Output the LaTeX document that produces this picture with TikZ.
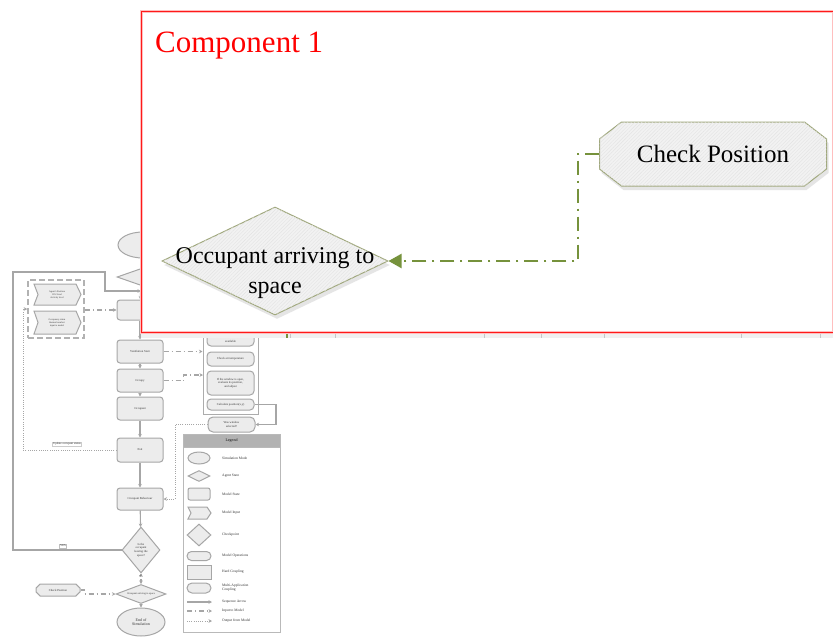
\documentclass[tikz,border=0pt]{standalone}
\usepackage{fontspec}
\setmainfont{Liberation Serif}
\usetikzlibrary{shapes.geometric,shapes.misc,shadows,calc,arrows.meta,patterns.meta}
\definecolor{olivec}{RGB}{118,146,60}
\definecolor{edgec}{RGB}{160,168,125}
\begin{document}
\begin{tikzpicture}[x=1pt,y=-1pt,
  bg/.style={draw=gray!70, fill=gray!15, line width=1pt},
  bgtext/.style={font=\fontsize{3}{3.6}\selectfont, text=gray!40!black, align=center},
  bgbox/.style={bg, rounded corners=3pt, minimum width=46pt, inner sep=0pt, bgtext},
  seq/.style={draw=gray!70, line width=1.1pt, -{Stealth[length=3.5pt,width=3.5pt]}},
  inp/.style={draw=gray!70, line width=1.1pt, dash pattern=on 5pt off 3pt on 1pt off 3pt, -{Stealth[length=3.5pt,width=3.5pt]}},
  outp/.style={draw=gray!70, line width=1pt, dash pattern=on 1pt off 1.2pt, -{Stealth[length=3.5pt,width=3.5pt]}},
  legtext/.style={anchor=west, font=\fontsize{3.6}{4.2}\selectfont, text=gray!40!black, inner sep=0pt, align=left},
  bigshape/.style={draw=edgec, line width=1pt, fill=gray!10,
    drop shadow={shadow xshift=2pt, shadow yshift=-4pt, fill=gray!40},
    postaction={pattern={Lines[angle=45,distance=2.5pt,line width=0.4pt]}, pattern color=gray!22}},
  bigtext/.style={font=\fontsize{24}{30}\selectfont, align=center},
  oliveconn/.style={draw=olivec, line width=2pt, dash pattern=on 14pt off 6pt on 2pt off 6pt, -{Triangle[length=13pt,width=14pt]}}
]
\useasboundingbox (0,0) rectangle (833,637);

% ---------------- background flowchart ----------------
\node[bg,ellipse,minimum width=50pt,minimum height=26pt] (s0) at (143,245) {};
\node[bg,diamond,minimum width=48pt,minimum height=17pt,inner sep=0pt] (s1) at (141,277) {};
\node[bgbox,minimum height=20pt] (s2) at (140,310) {};
\node[bgbox,minimum height=23pt] (bA) at (140,351.5) {Ventilation Start};
\node[bgbox,minimum height=23pt] (bB) at (140,380.5) {Occupy};
\node[bgbox,minimum height=23pt] (bC) at (140,408.5) {Occupant};
\node[bgbox,minimum height=24pt] (bD) at (140,450) {Exit};
\node[bgbox,minimum height=22pt] (bE) at (140,499) {Occupant Behaviour};
\node[bg,diamond,minimum width=38pt,minimum height=46pt,inner sep=0pt] (dq) at (141,550) {};
\node[bgtext] (dqt) at (dq) {Is the\\occupant\\leaving the\\space?};
\node[bg,diamond,minimum width=50pt,minimum height=19pt,inner sep=0pt] (dO) at (141,594) {};
\node[bgtext,font=\fontsize{2.6}{3}\selectfont] (dOt) at (dO) {Occupant arriving to space};
\node[bg,ellipse,minimum width=48pt,minimum height=28pt,inner sep=0pt,bgtext,font=\fontsize{4}{4.6}\selectfont] (end) at (141,622) {End of\\Simulation};
\node[bg,chamfered rectangle,chamfered rectangle xsep=3pt,minimum width=44pt,minimum height=12pt,inner sep=0pt,bgtext] (cps) at (58,590) {Check Position};

\draw[seq] (s0) -- (s1);
\draw[seq] (s1) -- (s2);
\draw[seq] (s2) -- (bA);
\draw[seq] (bA) -- (bB);
\draw[seq] (bB) -- (bC);
\draw[seq] (bC) -- (bD);
\draw[seq] (bD) -- (bE);
\draw[seq] (bE) -- (dq);
\draw[seq] (dq) -- (dO);
\draw[seq] (dO) -- (end);
\coordinate (lp) at (141,291);
\draw[seq] (dq.west) -- (13,550) -- (13,272) -- (105,272) -- (105,291) -- (lp);
\node[bgtext, draw=gray!50, fill=white, inner sep=0.8pt] (yes) at (63,546) {YES};
\node[bgtext, fill=white, inner sep=0.5pt] (no) at (141,577) {No};
\draw[inp] (cps.east) -- ++(4,0) |- (dO.west);

% input container
\node[draw=gray!60, dash pattern=on 6pt off 3pt, line width=1.5pt, minimum width=56pt, minimum height=58pt] (cont) at (56,309) {};
\coordinate (ch1) at (57,294.5);
\coordinate (ch2) at (57,322.5);
\path[bg] ($(ch1)+(-23,-10.5)$) -- ($(ch1)+(19,-10.5)$) -- ($(ch1)+(24,0)$) -- ($(ch1)+(19,10.5)$) -- ($(ch1)+(-23,10.5)$) -- ($(ch1)+(-19,0)$) -- cycle;
\node[bgtext,font=\fontsize{2.4}{3}\selectfont] (ch1t) at (ch1) {Agent's Position\\CO2 level\\Activity level};
\path[bg] ($(ch2)+(-23,-11.5)$) -- ($(ch2)+(19,-11.5)$) -- ($(ch2)+(24,0)$) -- ($(ch2)+(19,11.5)$) -- ($(ch2)+(-23,11.5)$) -- ($(ch2)+(-19,0)$) -- cycle;
\node[bgtext,font=\fontsize{2.4}{3}\selectfont] (ch2t) at (ch2) {Occupancy status\\thermal comfort\\input to model};
\draw[inp] (cont.east |- s2) -- (s2.west);
\draw[outp] (bD.west) -- (23,450) -- (23,309) -- (cont.west);
\node[bgtext, draw=gray!40, fill=white, inner sep=0.6pt] (upd) at (67,444) {Update occupant status};

% right group
\node[draw=gray!65, line width=1pt, minimum width=55pt, minimum height=90pt] (grp) at (230.5,369) {};
\node[bgbox, minimum width=47pt, minimum height=13pt, rounded corners=4pt] (i1) at (230.5,339.5) {Check Window is\\available};
\node[bgbox, minimum width=47pt, minimum height=14pt, rounded corners=4pt] (i2) at (230.5,359) {Check air temperature};
\node[bgbox, minimum width=47pt, minimum height=24pt, rounded corners=4pt] (i3) at (230.5,383) {If the window is open,\\evaluate its position,\\and adjust};
\node[bgbox, minimum width=47pt, minimum height=11pt, rounded corners=4pt] (i4) at (230.5,404.5) {Calculate position(x,y)};
\node[bgbox, minimum width=47pt, minimum height=15pt, rounded corners=5pt] (ws) at (231.5,424.5) {Was window\\selected?};
\coordinate (rt) at (276,404.5);
\draw[seq] (i4.east) -- (rt) |- (ws.east);
\draw[outp] (ws.west) -| (175,499) -- (bE.east);
\draw[inp] (bA.east) -- (grp.west |- bA.east);
\coordinate (gb) at (203,375);
\draw[inp] (bB.east) -- ++(20,0) |- (gb);

% legend
\node[draw=gray!55, fill=white, line width=1pt, minimum width=97pt, minimum height=198pt, inner sep=0pt] (leg) at (231.5,533) {};
\node[fill=gray!60, draw=gray!55, minimum width=97pt, minimum height=13pt, inner sep=0pt, font=\fontsize{4}{4.6}\selectfont, text=gray!10!black] (legh) at (231.5,440.5) {Legend};
\node[bg,ellipse,minimum width=22pt,minimum height=12pt,inner sep=0pt] (l1) at (199,458) {};
\node[bg,diamond,minimum width=22pt,minimum height=11pt,inner sep=0pt] (l2) at (199,476) {};
\node[bg,rounded corners=2pt,minimum width=22pt,minimum height=12pt,inner sep=0pt] (l3) at (199,494) {};
\coordinate (l4) at (199,513);
\path[bg] ($(l4)+(-11,-6)$) -- ($(l4)+(8,-6)$) -- ($(l4)+(12,0)$) -- ($(l4)+(8,6)$) -- ($(l4)+(-11,6)$) -- ($(l4)+(-8,0)$) -- cycle;
\node[bg,diamond,minimum width=24pt,minimum height=22pt,inner sep=0pt] (l5) at (199,535) {};
\node[bg,rounded rectangle,minimum width=24pt,minimum height=9pt,inner sep=0pt] (l6) at (199,556) {};
\node[bg,minimum width=24pt,minimum height=14pt,inner sep=0pt] (l7) at (199,572) {};
\node[bg,rounded rectangle,minimum width=24pt,minimum height=10pt,inner sep=0pt] (l8) at (199,588) {};
\coordinate (a1s) at (187,602); \coordinate (a1e) at (212,602);
\coordinate (a2s) at (187,611); \coordinate (a2e) at (212,611);
\coordinate (a3s) at (187,621); \coordinate (a3e) at (212,621);
\draw[seq] (a1s) -- (a1e);
\draw[inp] (a2s) -- (a2e);
\draw[outp] (a3s) -- (a3e);
\node[legtext] (t1) at (222,458) {Simulation Mode};
\node[legtext] (t2) at (222,476) {Agent State};
\node[legtext] (t3) at (222,494) {Model State};
\node[legtext] (t4) at (222,513) {Model Input};
\node[legtext] (t5) at (222,535) {Checkpoint};
\node[legtext] (t6) at (222,556) {Model Operations};
\node[legtext] (t7) at (222,572) {Hard Coupling};
\node[legtext] (t8) at (222,588) {Multi-Application\\Coupling};
\node[legtext] (t9) at (222,602) {Sequence Arrow};
\node[legtext] (t10) at (222,611) {Input to Model};
\node[legtext] (t11) at (222,621) {Output from Model};

% ---------------- Component 1 overlay ----------------
\fill[white] (141,11) rectangle (834,332);
\fill[gray!12] (141,332) rectangle (834,338);
\foreach \x in {290,335,484,541,604,741,820} \draw[gray!45, line width=0.6pt] (\x,332) -- (\x,338);
\draw[olivec, line width=1.5pt] (287,332) -- (287,338);
\draw[red!25, line width=3pt] (141,11) rectangle (833.5,332);
\draw[red!90, line width=1pt] (141,11) rectangle (833.5,332);
\node[anchor=base west, text=red, font=\fontsize{31}{36}\selectfont, inner sep=0pt] (ttl) at (155,52) {Component 1};

\coordinate (cpc) at (713,154);
\path[bigshape] ($(cpc)+(-91.5,-32)$) -- ($(cpc)+(91.5,-32)$) -- ($(cpc)+(113.5,-15)$) -- ($(cpc)+(113.5,15)$) -- ($(cpc)+(91.5,32)$) -- ($(cpc)+(-91.5,32)$) -- ($(cpc)+(-113.5,15)$) -- ($(cpc)+(-113.5,-15)$) -- cycle;
\node[bigtext, font=\fontsize{25}{30}\selectfont, minimum width=227pt, minimum height=64pt, inner sep=0pt] (cp) at (cpc) {Check Position};

\node[bigshape, diamond, minimum width=226pt, minimum height=108pt, inner sep=0pt] (occ) at (275,261) {};
\node[bigtext] (occt) at (275,273) {Occupant arriving to\\space};

\coordinate (cbend) at (578,154);
\draw[oliveconn] (cp.west) -- (cbend) |- (occ.east);
\end{tikzpicture}
\end{document}
